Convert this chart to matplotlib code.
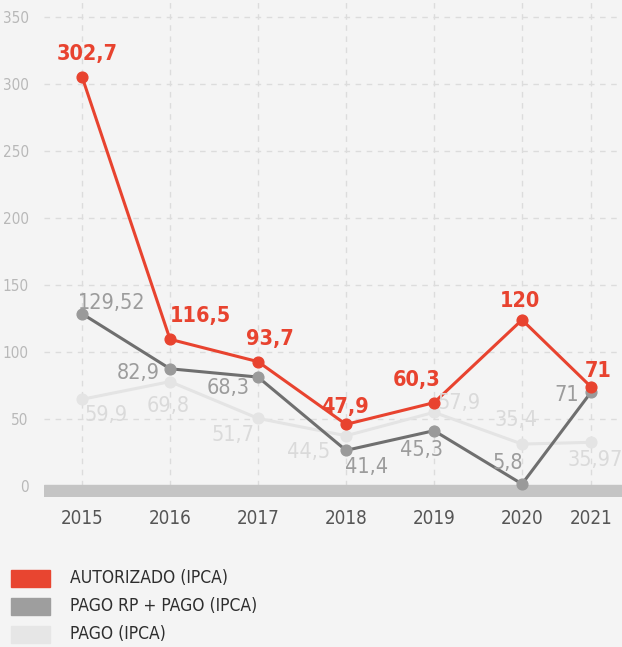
import numpy as np
import matplotlib
matplotlib.use("Agg")
import matplotlib.pyplot as plt
from matplotlib.patches import Rectangle

plt.rcParams['font.family'] = ['Liberation Sans Narrow', 'DejaVu Sans']
plt.rcParams['font.stretch'] = 'condensed'

years = ['2015', '2016', '2017', '2018', '2019', '2020', '2021']

# plotted heights (as drawn) and printed labels
autorizado = [305.5, 109.5, 92.8, 46.0, 62.2, 124.0, 74.0]
autorizado_lbl = ['302,7', '116,5', '93,7', '47,9', '60,3', '120', '71']
pago_rp = [128.6, 87.5, 81.3, 26.6, 41.3, 1.5, 70.0]
pago_rp_lbl = ['129,52', '82,9', '68,3', '41,4', '45,3', '5,8', '71']
pago = [64.7, 77.9, 50.5, 37.5, 55.0, 31.3, 32.6]
pago_lbl = ['59,9', '69,8', '51,7', '44,5', '57,9', '35,4', '35,97']

RED = '#e8432f'
DARK = '#6f6f6f'
DARKPT = '#9a9a9a'
LIGHT = '#e4e4e4'
BG = '#f4f4f4'

W, H = 622, 647
fig = plt.figure(figsize=(W / 100, H / 100), dpi=100, facecolor=BG)
ax = fig.add_axes([44 / W, 1 - 497 / H, (622 - 44) / W, 497 / H])
ax.set_facecolor(BG)

x = np.arange(len(years), dtype=float)
x[-1] = 5.784  # last year is squeezed against the right edge

ax.set_xlim(-0.432, 6.136)
ax.set_ylim(-8.2, 362.7)

ax.axhspan(-8.2, 0.5, color='#c4c4c4', zorder=1)

for v in range(50, 351, 50):
    ax.axhline(v, color='#dcdcdc', lw=1, ls=(0, (4, 4)), zorder=0)
for xi in x:
    ax.axvline(xi, color='#dcdcdc', lw=1, ls=(0, (4, 4)), zorder=0)

ax.plot(x, pago, color=LIGHT, lw=2.2, zorder=2)
ax.scatter(x, pago, s=60, color=LIGHT, zorder=3)
ax.plot(x, pago_rp, color=DARK, lw=2.2, zorder=4)
ax.scatter(x, pago_rp, s=60, color=DARKPT, zorder=5)
ax.plot(x, autorizado, color=RED, lw=2.2, zorder=6)
ax.scatter(x, autorizado, s=60, color=RED, zorder=7)

red_off = [(5, 23), (30, 23), (12, 23), (-1, 17), (-17, 23), (-2, 19), (7, 16)]
dark_off = [(30, 11), (-32, -4), (-30, -11), (21, -17), (-13, -19), (-14, 21), (-24, -3)]
light_off = [(24, -16), (-2, -24), (-25, -17), (-37, -16), (25, 9), (-6, 24), (4, -18)]

for xi, yi, t, o in zip(x, autorizado, autorizado_lbl, red_off):
    ax.annotate(t, (xi, yi), xytext=o, textcoords='offset pixels', ha='center', va='center',
                color=RED, fontsize=15.5, fontweight='bold', zorder=8)
for xi, yi, t, o in zip(x, pago_rp, pago_rp_lbl, dark_off):
    ax.annotate(t, (xi, yi), xytext=o, textcoords='offset pixels', ha='center', va='center',
                color='#9c9c9c', fontsize=15.5, zorder=8)
for xi, yi, t, o in zip(x, pago, pago_lbl, light_off):
    ax.annotate(t, (xi, yi), xytext=o, textcoords='offset pixels', ha='center', va='center',
                color='#dadada', fontsize=15.5, zorder=8)

ax.set_yticks(range(0, 351, 50))
ax.set_yticklabels([str(v) for v in range(0, 351, 50)], color='#b8b8b8', fontsize=11)
ax.set_xticks(x)
ax.set_xticklabels(years, color='#555555', fontsize=13.5)
ax.tick_params(length=0, axis='y', pad=11)
ax.tick_params(length=0, axis='x', pad=9)
for s in ax.spines.values():
    s.set_visible(False)

legend = [('AUTORIZADO (IPCA)', '#e84530'), ('PAGO RP + PAGO (IPCA)', '#9e9e9e'), ('PAGO (IPCA)', '#e6e6e6')]
for i, (name, c) in enumerate(legend):
    yc = 578 + i * 28
    fig.patches.append(Rectangle((11 / W, 1 - (yc + 8.5) / H), 39 / W, 17 / H,
                                 transform=fig.transFigure, color=c))
    fig.text(70 / W, 1 - yc / H, name, va='center', ha='left', fontsize=12.5, color='#2e2e2e')

fig.savefig('out.png', dpi=100, facecolor=BG)
